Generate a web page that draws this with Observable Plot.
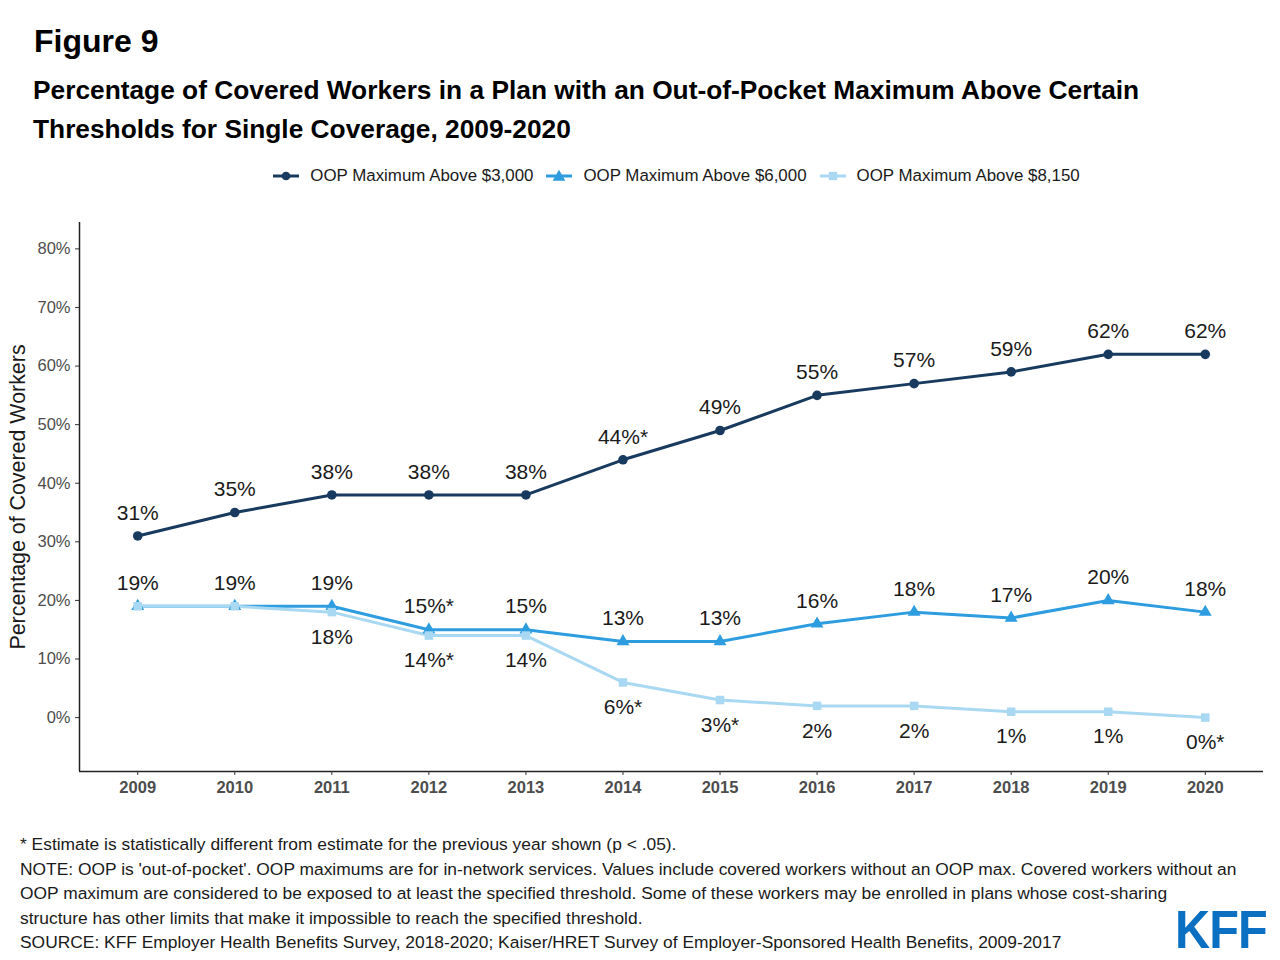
<!DOCTYPE html>
<html><head><meta charset="utf-8">
<script src="https://cdn.jsdelivr.net/npm/d3@7"></script>
<script src="https://cdn.jsdelivr.net/npm/@observablehq/plot@0.6"></script>
<style>
body{margin:0;background:#fff;font-family:"Liberation Sans",Arial,sans-serif;}
#page{position:relative;width:1280px;height:960px;overflow:hidden;}
.abs{position:absolute;white-space:nowrap;}
#fig{left:34px;top:23px;font-size:32px;font-weight:bold;color:#000;}
#sub{left:33px;top:71px;font-size:26.3px;font-weight:bold;color:#000;line-height:39px;}
#legend{left:0;width:1352px;top:166px;text-align:center;font-size:16.9px;color:#1a1a1a;}
.li{display:inline-flex;align-items:center;margin:0 6px;}
.li svg{margin-right:10px;}
#ylab{left:18px;top:497px;transform:translate(-50%,-50%) rotate(-90deg);font-size:21.4px;color:#1a1a1a;z-index:2;}
#chart{left:0;top:200px;z-index:1;}
#notes{left:20px;top:832px;font-size:17.4px;line-height:24.5px;color:#1a1a1a;}
#logo{left:1175px;top:898px;font-weight:bold;font-size:54px;color:#0b70c1;letter-spacing:-1px;transform:scaleX(0.9);transform-origin:left top;}
</style></head>
<body><div id="page">
<div id="fig" class="abs">Figure 9</div>
<div id="sub" class="abs">Percentage of Covered Workers in a Plan with an Out-of-Pocket Maximum Above Certain<br>Thresholds for Single Coverage, 2009-2020</div>
<div id="legend" class="abs"></div>
<div id="chart" class="abs"></div>
<div id="ylab" class="abs">Percentage of Covered Workers</div>
<div id="notes" class="abs">* Estimate is statistically different from estimate for the previous year shown (p &lt; .05).<br>NOTE: OOP is 'out-of-pocket'. OOP maximums are for in-network services. Values include covered workers without an OOP max. Covered workers without an<br>OOP maximum are considered to be exposed to at least the specified threshold. Some of these workers may be enrolled in plans whose cost-sharing<br>structure has other limits that make it impossible to reach the specified threshold.<br>SOURCE: KFF Employer Health Benefits Survey, 2018-2020; Kaiser/HRET Survey of Employer-Sponsored Health Benefits, 2009-2017</div>
<div id="logo" class="abs">KFF</div>
</div>
<script>
const years = [2009,2010,2011,2012,2013,2014,2015,2016,2017,2018,2019,2020];
const seriesNames = ["OOP Maximum Above $3,000","OOP Maximum Above $6,000","OOP Maximum Above $8,150"];
const oop3000 = [31,35,38,38,38,44,49,55,57,59,62,62];
const oop6000 = [19,19,19,15,15,13,13,16,18,17,20,18];
const oop8150 = [19,19,18,14,14,6,3,2,2,1,1,0];
const star3000 = [0,0,0,0,0,1,0,0,0,0,0,0];
const star6000 = [0,0,0,1,0,0,0,0,0,0,0,0];
const star8150 = [0,0,0,1,0,1,1,0,0,0,0,1];
const yTicks = [0,10,20,30,40,50,60,70,80];
const colors = ["#173a5e","#2e9de0","#a9d9f2"];
const symbols = ["circle","triangle","square"];

const vals = [oop3000, oop6000, oop8150];
const stars = [star3000, star6000, star8150];
const data = [];
vals.forEach((arr, s) => arr.forEach((v, i) => data.push({
  series: seriesNames[s], year: years[i], value: v,
  label: v + "%" + (stars[s][i] ? "*" : ""),
  above: s < 2,
  show: s < 2 || v !== oop6000[i]
})));

const xDomain = [2008.4, 2020.6];
const yDomain = [-9.2, 84.5];

const chart = Plot.plot({
  width: 1280, height: 610,
  marginLeft: 79, marginRight: 17, marginTop: 22, marginBottom: 39,
  style: {fontFamily: "'Liberation Sans',Arial,sans-serif", background: "transparent"},
  x: {domain: xDomain},
  y: {domain: yDomain},
  color: {domain: seriesNames, range: colors},
  symbol: {domain: seriesNames, range: symbols},
  marks: [
    Plot.ruleX([xDomain[0]], {stroke: "#222", strokeWidth: 1.5}),
    Plot.ruleY([yDomain[0]], {stroke: "#222", strokeWidth: 1.5}),
    Plot.axisY({ticks: yTicks, tickFormat: d => d + "%", tickSize: 4, tickPadding: 5, fontSize: 16.5, fill: "#4d4d4d", stroke: "#333", label: null}),
    Plot.axisX({ticks: years, tickFormat: d => String(d), tickSize: 4, tickPadding: 6, fontSize: 16.5, fontWeight: "bold", fill: "#4d4d4d", stroke: "#333", label: null}),
    Plot.line(data, {x: "year", y: "value", stroke: "series", z: "series", strokeWidth: 3}),
    Plot.dot(data, {x: "year", y: "value", fill: "series", symbol: "series", r: 4.8}),
    Plot.text(data.filter(d => d.show && d.above), {x: "year", y: "value", text: "label", dy: -23, fontSize: 21, fill: "#1a1a1a"}),
    Plot.text(data.filter(d => d.show && !d.above), {x: "year", y: "value", text: "label", dy: 25, fontSize: 21, fill: "#1a1a1a"})
  ]
});
document.getElementById("chart").appendChild(chart);

const leg = document.getElementById("legend");
seriesNames.forEach((n, i) => {
  const sym = d3.symbol().type([d3.symbolCircle, d3.symbolTriangle, d3.symbolSquare][i]).size(i===0?60:70)();
  const item = document.createElement("span");
  item.className = "li";
  item.innerHTML = `<svg width="28" height="14"><line x1="1" y1="7" x2="27" y2="7" stroke="${colors[i]}" stroke-width="3"/><path d="${sym}" transform="translate(14,${i===1?8:7})" fill="${colors[i]}"/></svg>${n}`;
  leg.appendChild(item);
});
</script>
</body></html>
